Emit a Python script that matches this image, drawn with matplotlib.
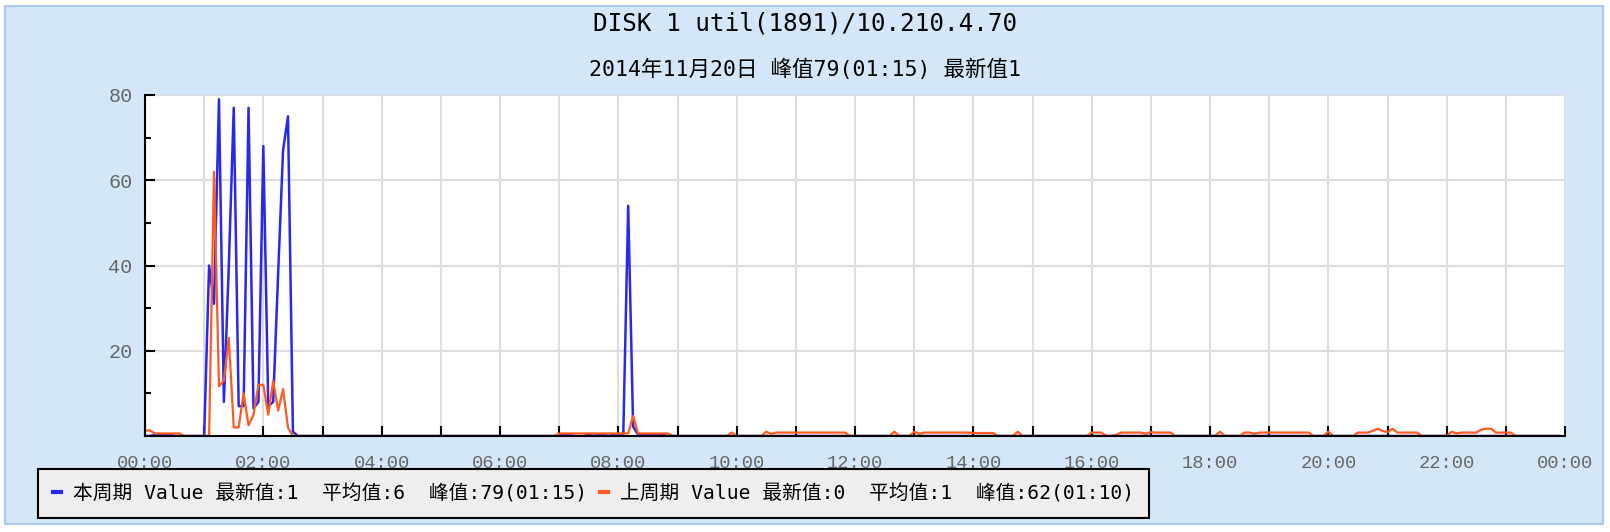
import numpy as np
import matplotlib
matplotlib.use("Agg")
import matplotlib.pyplot as plt
from matplotlib.patches import Rectangle
from matplotlib.ticker import MultipleLocator, FixedLocator

plt.rcParams['font.family'] = ['DejaVu Sans Mono', 'Noto Sans CJK SC']

title = "DISK 1 util(1891)/10.210.4.70"
subtitle = "2014年11月20日 峰值79(01:15) 最新值1"
label_cur = "本周期 Value 最新值:1  平均值:6  峰值:79(01:15)"
label_prev = "上周期 Value 最新值:0  平均值:1  峰值:62(01:10)"
x_labels = ["00:00", "02:00", "04:00", "06:00", "08:00", "10:00", "12:00",
            "14:00", "16:00", "18:00", "20:00", "22:00", "00:00"]
y_labels = ["20", "40", "60", "80"]

# 5-minute samples, one row per hour
cur = [
    0, 0, 0.3, 0.3, 0.3, 0.3, 0, 0, 0, 0, 0, 0,          # 00
    0, 40, 31, 79, 8, 40, 77, 7, 7, 77, 6.5, 8,          # 01
    68, 7, 8, 38, 67, 75, 1, 0, 0, 0, 0, 0,              # 02
    0, 0, 0, 0, 0, 0, 0, 0, 0, 0, 0, 0,                  # 03
    0, 0, 0, 0, 0, 0, 0, 0, 0, 0, 0, 0,                  # 04
    0, 0, 0, 0, 0, 0, 0, 0, 0, 0, 0, 0,                  # 05
    0, 0, 0, 0, 0, 0, 0, 0, 0, 0, 0, 0,                  # 06
    0.3, 0.3, 0.3, 0, 0, 0, 0.3, 0, 0.3, 0.3, 0, 0.3,    # 07
    0.3, 0, 54, 2.2, 0.3, 0.3, 0.3, 0.3, 0.3, 0.3, 0, 0, # 08
    0, 0, 0, 0, 0, 0, 0, 0, 0, 0, 0, 0,                  # 09
    0, 0, 0, 0, 0, 0, 0, 0, 0, 0, 0, 0,                  # 10
    0, 0, 0, 0, 0, 0, 0, 0, 0, 0, 0, 0,                  # 11
    0, 0, 0, 0, 0, 0, 0, 0, 0, 0, 0, 0,                  # 12
    0, 0, 0, 0, 0, 0, 0, 0, 0, 0, 0, 0,                  # 13
    0, 0, 0, 0, 0, 0, 0, 0, 0, 0, 0, 0,                  # 14
    0, 0, 0, 0, 0, 0, 0, 0, 0, 0, 0, 0,                  # 15
    0, 0, 0, 0, 0, 0, 0, 0, 0, 0, 0, 0,                  # 16
    0, 0, 0, 0, 0, 0, 0, 0, 0, 0, 0, 0,                  # 17
    0, 0, 0, 0, 0, 0, 0, 0, 0, 0, 0, 0,                  # 18
    0, 0, 0, 0, 0, 0, 0, 0, 0, 0, 0, 0,                  # 19
    0, 0, 0, 0, 0, 0, 0, 0, 0, 0, 0, 0,                  # 20
    0, 0, 0, 0, 0, 0, 0, 0, 0, 0, 0, 0,                  # 21
    0, 0, 0, 0, 0, 0, 0, 0, 0, 0, 0, 0,                  # 22
    0, 0, 0, 0, 0, 0, 0, 0, 0, 0, 0, 0,                  # 23
]

prev = [
    1.3, 1.3, 0.6, 0.6, 0.6, 0.6, 0.6, 0.6, 0, 0, 0, 0,          # 00
    0, 0, 62, 11.7, 13, 23, 2, 2, 10, 2.5, 5, 12,                # 01
    12, 5, 13, 6, 11, 2, 0, 0, 0, 0, 0, 0,                       # 02
    0, 0, 0, 0, 0, 0, 0, 0, 0, 0, 0, 0,                          # 03
    0, 0, 0, 0, 0, 0, 0, 0, 0, 0, 0, 0,                          # 04
    0, 0, 0, 0, 0, 0, 0, 0, 0, 0, 0, 0,                          # 05
    0, 0, 0, 0, 0, 0, 0, 0, 0, 0, 0, 0,                          # 06
    0.6, 0.6, 0.6, 0.6, 0.6, 0.6, 0.6, 0.6, 0.6, 0.6, 0.6, 0.6,  # 07
    0.6, 0.6, 0.6, 4.7, 0.6, 0.6, 0.6, 0.6, 0.6, 0.6, 0.6, 0,    # 08
    0, 0, 0, 0, 0, 0, 0, 0, 0, 0, 0, 0.8,                        # 09
    0, 0, 0, 0, 0, 0, 1.0, 0.5, 0.8, 0.8, 0.8, 0.8,              # 10
    0.8, 0.8, 0.8, 0.8, 0.8, 0.8, 0.8, 0.8, 0.8, 0.8, 0.8, 0,    # 11
    0, 0, 0, 0, 0, 0, 0, 0, 1.0, 0, 0, 0,                        # 12
    1.0, 0.5, 0.8, 0.8, 0.8, 0.8, 0.8, 0.8, 0.8, 0.8, 0.8, 0.8,  # 13
    0.7, 0.7, 0.7, 0.7, 0.7, 0, 0, 0, 0, 1.0, 0, 0,              # 14
    0, 0, 0, 0, 0, 0, 0, 0, 0, 0, 0, 0,                          # 15
    0.8, 0.8, 0.8, 0, 0, 0.3, 0.8, 0.8, 0.8, 0.8, 0.8, 0.5,      # 16
    0.9, 0.8, 0.8, 0.8, 0.8, 0, 0, 0, 0, 0, 0, 0,                # 17
    0, 0, 1.0, 0, 0, 0, 0, 0.8, 0.8, 0.5, 0.8, 0.8,              # 18
    0.8, 0.8, 0.8, 0.8, 0.8, 0.8, 0.8, 0.8, 0.8, 0, 0, 0,        # 19
    1.0, 0, 0, 0, 0, 0, 0.8, 0.8, 0.8, 1.2, 1.7, 1.2,            # 20
    0.9, 1.7, 0.8, 0.8, 0.8, 0.8, 0.8, 0, 0, 0, 0, 0,            # 21
    0, 1.0, 0.6, 0.8, 0.8, 0.8, 0.8, 1.5, 1.7, 1.7, 0.8, 0.8,    # 22
    0.8, 0.8, 0, 0, 0, 0, 0, 0, 0, 0, 0, 0,                      # 23
]

hours = np.arange(len(cur)) * 5 / 60.0

fig = plt.figure(figsize=(16.1, 5.32), dpi=100)
fig.patch.set_facecolor("white")
W, H = 1610, 532
panel = Rectangle((5 / W, 8 / H), 1598 / W, 518 / H, transform=fig.transFigure,
                  facecolor="#D3E7F9", edgecolor="#A9C9EF", linewidth=1.5, zorder=-10)
fig.patches.append(panel)

ax = fig.add_axes([145 / W, (H - 436) / H, 1420 / W, 341 / H])
ax.set_zorder(2)
ax.set_facecolor("white")
ax.plot(hours, cur, color="#2828F0", lw=1.8, zorder=3)
ax.plot(hours, prev, color="#FF5A1F", lw=1.6, zorder=4)

ax.set_xlim(0, 24)
ax.set_ylim(0, 80)
ax.set_xticks(np.arange(0, 25, 2))
ax.set_xticklabels(x_labels)
ax.xaxis.set_minor_locator(MultipleLocator(1))
ax.yaxis.set_major_locator(FixedLocator([20, 40, 60, 80]))
ax.yaxis.set_minor_locator(FixedLocator([10, 30, 50, 70]))
ax.set_yticklabels(y_labels)

ax.grid(True, which="both", axis="x", color="#DDDDDD", lw=1.5, zorder=1)
ax.grid(True, which="major", axis="y", color="#DDDDDD", lw=1.5, zorder=1)
ax.set_axisbelow(True)

for s in ["top", "right"]:
    ax.spines[s].set_visible(False)
for s in ["left", "bottom"]:
    ax.spines[s].set_linewidth(1.5)
    ax.spines[s].set_color("black")
    ax.spines[s].set_zorder(5)

ax.tick_params(axis="x", which="both", direction="in", length=7, width=1.5, color="black",
               pad=14, labelsize=13.5, labelcolor="#666666")
ax.tick_params(axis="y", which="major", direction="in", length=7, width=1.5, color="black",
               pad=9, labelsize=14.5, labelcolor="#666666")
ax.tick_params(axis="y", which="minor", direction="in", length=4, width=1.5, color="black")
for lab in ax.get_xticklabels() + ax.get_yticklabels():
    lab.set_family("Liberation Mono")

fig.text(0.5, 1 - 23 / H, title, ha="center", va="center", fontsize=17.5)
fig.text(0.5, 1 - 69 / H, subtitle, ha="center", va="center", fontsize=15.5)

h1, = ax.plot([], [], color="#2828F0", lw=3)
h2, = ax.plot([], [], color="#FF5A1F", lw=3)
leg = fig.legend([h1, h2], [label_cur, label_prev], ncol=2, loc="lower left",
                 bbox_to_anchor=(38 / W, (H - 518) / H), borderaxespad=0, fontsize=14.2,
                 handlelength=0.4, handletextpad=0.6, columnspacing=0.7,
                 borderpad=0.75, fancybox=False, framealpha=1)
leg.get_frame().set_facecolor("#EEEEEE")
leg.get_frame().set_edgecolor("black")
leg.get_frame().set_linewidth(1.5)

fig.savefig("out.png", dpi=100)
